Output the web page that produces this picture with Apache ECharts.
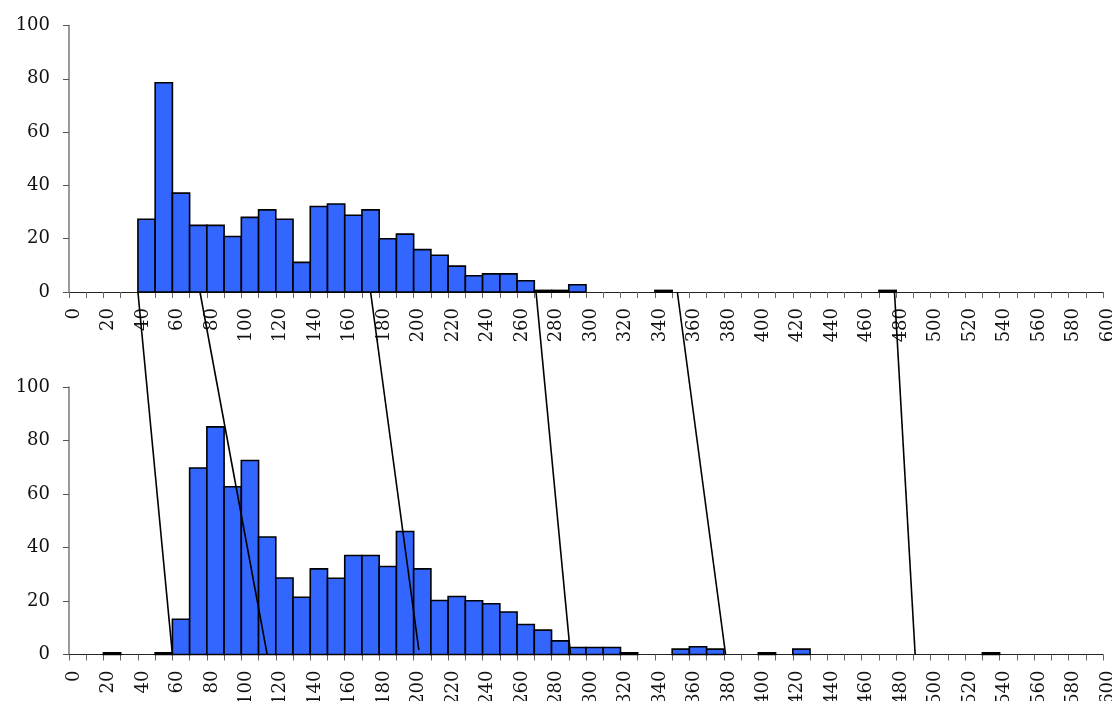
<!DOCTYPE html>
<html>
<head>
<meta charset="utf-8">
<script src="https://cdn.jsdelivr.net/npm/echarts@6/dist/echarts.min.js"></script>
<style>
  html, body { margin: 0; padding: 0; background: #fff; }
  #main { width: 1112px; height: 701px; }
</style>
</head>
<body>
<div id="main"></div>
<script>
  // bin starts, 10 wide, 0..590
  var binStarts = [];
  for (var b = 0; b < 600; b += 10) binStarts.push(b);

  // upper histogram
  var topValues = [
    0, 0, 0, 0, 27.3, 78.5, 37.1, 25, 25, 20.8,
    28, 30.8, 27.3, 11.1, 32.1, 33, 28.8, 30.8, 20, 21.7,
    15.9, 13.8, 9.7, 6.1, 6.8, 6.8, 4.2, 0.6, 0.6, 2.7,
    0, 0, 0, 0, 0.6, 0, 0, 0, 0, 0,
    0, 0, 0, 0, 0, 0, 0, 0.6, 0, 0,
    0, 0, 0, 0, 0, 0, 0, 0, 0, 0
  ];
  // lower histogram
  var bottomValues = [
    0, 0, 0.6, 0, 0, 0.6, 13.2, 69.7, 85.1, 62.7,
    72.5, 43.9, 28.6, 21.4, 32, 28.5, 37, 37, 32.9, 46,
    32, 20.2, 21.7, 20.1, 19, 15.9, 11.2, 9.1, 5.1, 2.6,
    2.6, 2.6, 0.6, 0, 0, 2, 2.9, 2, 0, 0,
    0.6, 0, 2, 0, 0, 0, 0, 0, 0, 0,
    0, 0, 0, 0.6, 0, 0, 0, 0, 0, 0
  ];
  // connector lines: x on upper axis -> x on lower axis
  var linkFrom = [40, 76, 175, 271, 353, 479];
  var linkTo = [60, 115, 203, 291, 381, 491];
  var linkToLevel = [0, 0, 0.012, 0, 0, 0];

  var binWidth = 10;
  var font = 'DejaVu Serif';

  function histData(values) {
    var out = [];
    for (var i = 0; i < values.length; i++) {
      if (values[i] > 0) out.push([binStarts[i], values[i]]);
    }
    return out;
  }

  function renderBin(params, api) {
    var x0 = api.value(0);
    var p0 = api.coord([x0, api.value(1)]);
    var p1 = api.coord([x0 + binWidth, 0]);
    return {
      type: 'rect',
      shape: { x: p0[0], y: p0[1], width: p1[0] - p0[0], height: p1[1] - p0[1] },
      style: { fill: '#3366ff', stroke: '#000', lineWidth: 1.6 }
    };
  }

  function xAxisDef(idx) {
    return {
      gridIndex: idx, type: 'value', min: 0, max: 600, interval: 20,
      axisLine: { lineStyle: { color: '#222', width: 1 } },
      axisTick: { length: 6, lineStyle: { color: '#666' } },
      minorTick: { show: true, splitNumber: 2, length: 6, lineStyle: { color: '#666' } },
      splitLine: { show: false },
      axisLabel: {
        rotate: 90, margin: 16, verticalAlign: 'top', lineHeight: 10,
        fontFamily: font, fontSize: 18, color: '#111'
      }
    };
  }
  function yAxisDef(idx) {
    return {
      gridIndex: idx, type: 'value', min: 0, max: 100, interval: 20,
      axisLine: { show: true, lineStyle: { color: '#777', width: 1.5 } },
      axisTick: { show: true, length: 6, lineStyle: { color: '#555' } },
      splitLine: { show: false },
      axisLabel: { margin: 19, fontFamily: font, fontSize: 18, color: '#111' }
    };
  }

  var linkSeries = [];
  for (var k = 0; k < linkFrom.length; k++) {
    linkSeries.push({
      type: 'line', xAxisIndex: 2, yAxisIndex: 2,
      data: [[linkFrom[k], 1], [linkTo[k], linkToLevel[k]]],
      symbol: 'none', silent: true, z: 5,
      lineStyle: { color: '#000', width: 1.6 }
    });
  }

  var myChart = echarts.init(document.getElementById('main'));
  var option = {
    animation: false,
    backgroundColor: '#fff',
    grid: [
      { left: 69, right: 9, top: 25.5, bottom: 409, outerBoundsMode: 'none' },
      { left: 69, right: 9, top: 387, bottom: 46.5, outerBoundsMode: 'none' },
      { left: 69, right: 9, top: 292, bottom: 46.5, outerBoundsMode: 'none' }
    ],
    xAxis: [
      xAxisDef(0),
      xAxisDef(1),
      { gridIndex: 2, type: 'value', min: 0, max: 600, show: false }
    ],
    yAxis: [
      yAxisDef(0),
      yAxisDef(1),
      { gridIndex: 2, type: 'value', min: 0, max: 1, show: false }
    ],
    series: [
      { type: 'custom', xAxisIndex: 0, yAxisIndex: 0, renderItem: renderBin, data: histData(topValues) },
      { type: 'custom', xAxisIndex: 1, yAxisIndex: 1, renderItem: renderBin, data: histData(bottomValues) }
    ].concat(linkSeries)
  };
  myChart.setOption(option);
  window.addEventListener("resize", () => { myChart.resize(); });
</script>
</body>
</html>
